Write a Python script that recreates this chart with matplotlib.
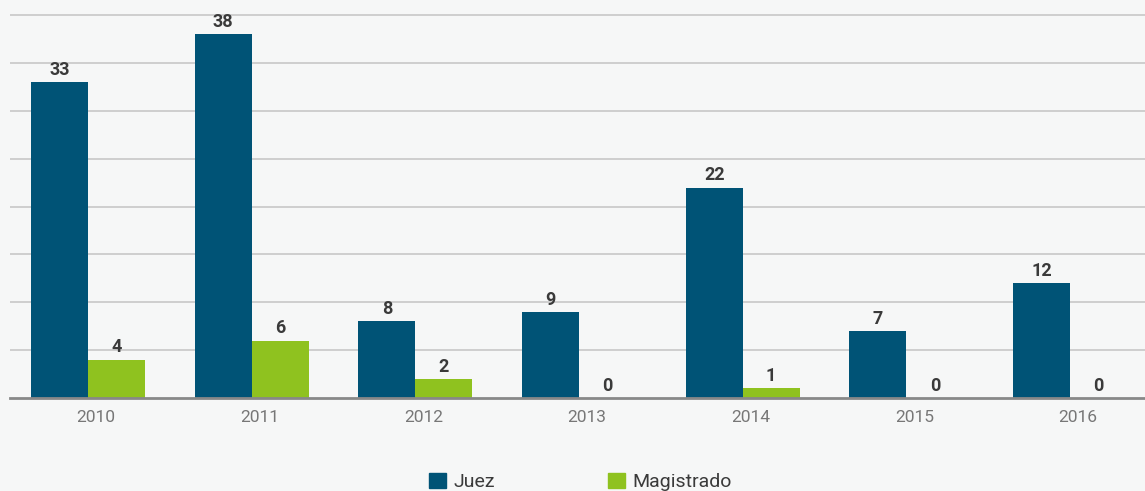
import numpy as np
import matplotlib.pyplot as plt
from matplotlib.patches import Patch

# Data
years = ["2010", "2011", "2012", "2013", "2014", "2015", "2016"]
juez = [33, 38, 8, 9, 22, 7, 12]
magistrado = [4, 6, 2, 0, 1, 0, 0]

blue = "#005376"
green = "#8fc21f"
bg = "#f6f7f7"

plt.rcParams['font.family'] = ['Roboto', 'DejaVu Sans']

fig = plt.figure(figsize=(11.45, 4.91), dpi=100, facecolor=bg)
ax = fig.add_axes([10 / 1145, 93 / 491, 1 - 10 / 1145, 398 / 491])
ax.set_facecolor(bg)

x = np.arange(len(years))
w = 0.348
ax.bar(x - w / 2, juez, w, color=blue, zorder=3)
ax.bar(x + w / 2, magistrado, w, color=green, zorder=3)

# value labels
for xi, v in zip(x - w / 2, juez):
    ax.text(xi, v + 0.35, str(v), ha="center", va="bottom", fontsize=13,
            fontweight="bold", color="#3a3a3a", zorder=4)
for xi, v in zip(x + w / 2, magistrado):
    ax.text(xi, v + 0.35, str(v), ha="center", va="bottom", fontsize=13,
            fontweight="bold", color="#3a3a3a", zorder=4)

ax.set_xlim(-0.4766, 6.458)
ax.set_ylim(0, 41.6)
ax.set_yticks(np.arange(5, 41, 5))
ax.yaxis.grid(True, color="#c8c8c8", linewidth=1.2, zorder=0)
ax.tick_params(axis="y", length=0, labelleft=False)
ax.set_xticks(x + 0.05)
ax.set_xticklabels(years, fontsize=12.5, color="#777777")
ax.tick_params(axis="x", length=0, pad=9)

for s in ["top", "right", "left"]:
    ax.spines[s].set_visible(False)
ax.spines["bottom"].set_color("#888888")
ax.spines["bottom"].set_linewidth(2)
ax.spines["bottom"].set_zorder(5)

handles = [Patch(color=blue, label="Juez"), Patch(color=green, label="Magistrado")]
fig.legend(handles=handles, loc="center", bbox_to_anchor=(0.507, 0.0185), ncol=2,
           frameon=False, fontsize=14, handlelength=0.88, handleheight=0.88,
           handletextpad=0.4, columnspacing=5.8, labelcolor="#3a3a3a")

fig.savefig("out.png", dpi=100, facecolor=bg)
